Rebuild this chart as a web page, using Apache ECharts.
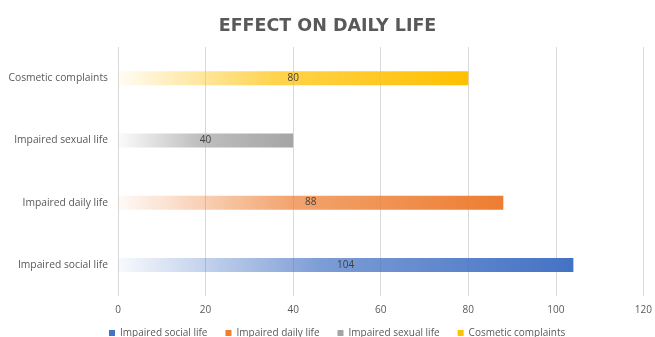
<!DOCTYPE html>
<html>
<head>
<meta charset="utf-8">
<script src="https://cdn.jsdelivr.net/npm/echarts@6/dist/echarts.min.js"></script>
<style>
  html, body { margin: 0; padding: 0; background: #fff; }
  #chart { width: 655px; height: 337px; }
</style>
</head>
<body>
<div id="chart"></div>
<script>
// Categories, bottom to top on the value-vs-category bar chart
const categories = ['Impaired social life', 'Impaired daily life', 'Impaired sexual life', 'Cosmetic complaints'];
const counts = [104, 88, 40, 80];
const colors = ['#4472C4', '#ED7D31', '#A5A5A5', '#FFC000'];
const xTicks = [0, 20, 40, 60, 80, 100, 120];

function fade(hex) {
  const r = parseInt(hex.slice(1, 3), 16), g = parseInt(hex.slice(3, 5), 16), b = parseInt(hex.slice(5, 7), 16);
  return new echarts.graphic.LinearGradient(0, 0, 1, 0, [
    { offset: 0, color: `rgba(${r},${g},${b},0.04)` },
    { offset: 0.45, color: `rgba(${r},${g},${b},0.7)` },
    { offset: 1, color: `rgba(${r},${g},${b},1)` }
  ]);
}

// One series per category so each gets its own legend entry
const series = categories.map((name, i) => ({
  name: name,
  type: 'bar',
  stack: 'all',
  barWidth: 14,
  data: categories.map((_, j) => (j === i ? counts[i] : null)),
  itemStyle: { color: fade(colors[i]) },
  label: {
    show: true,
    position: 'inside',
    color: '#404040',
    fontSize: 10,
    fontFamily: 'Open Sans'
  }
}));

const chart = echarts.init(document.getElementById('chart'), null, { renderer: 'canvas' });
chart.setOption({
  animation: false,
  color: colors,
  title: {
    text: 'EFFECT ON DAILY LIFE',
    left: 'center',
    top: 12,
    textStyle: { color: '#595959', fontSize: 17.5, fontWeight: 'bold', fontFamily: 'DejaVu Sans' }
  },
  legend: {
    top: 323,
    left: 104,
    itemWidth: 6,
    itemHeight: 6,
    itemGap: 18,
    icon: 'rect',
    textStyle: { color: '#595959', fontSize: 10, fontFamily: 'Open Sans' },
    data: categories.map((name, i) => ({ name: name, itemStyle: { color: colors[i] } }))
  },
  grid: { left: 118, right: 11, top: 47, bottom: 41 },
  xAxis: {
    type: 'value',
    min: xTicks[0],
    max: xTicks[xTicks.length - 1],
    interval: 20,
    axisLine: { show: false },
    axisTick: { show: false },
    axisLabel: { color: '#595959', fontSize: 10, fontFamily: 'Open Sans', margin: 9 },
    splitLine: { lineStyle: { color: '#d9d9d9', width: 1 } }
  },
  yAxis: {
    type: 'category',
    data: categories,
    axisLine: { show: false },
    axisTick: { show: false },
    axisLabel: { color: '#595959', fontSize: 10.3, fontFamily: 'Open Sans', margin: 10 }
  },
  series: series
});
</script>
</body>
</html>
